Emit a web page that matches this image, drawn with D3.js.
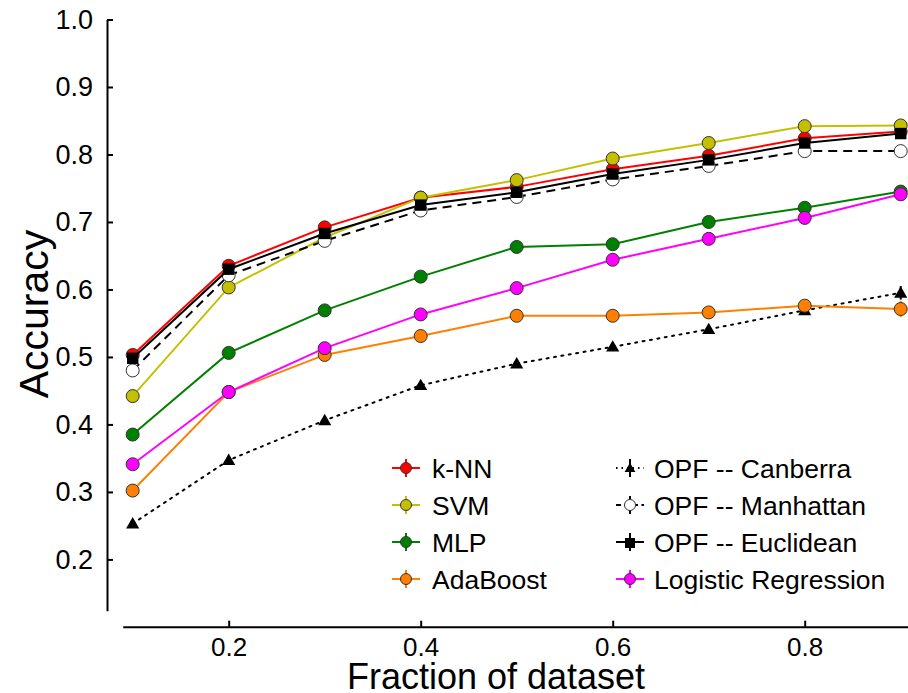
<!DOCTYPE html>
<html>
<head>
<meta charset="utf-8">
<script src="https://cdn.jsdelivr.net/npm/d3@7"></script>
<style>
  body { margin: 0; background: #fff; }
  svg { font-family: "Liberation Sans", Arial, sans-serif; }
</style>
</head>
<body>
<div id="chart"></div>
<script>
// fractions of the dataset
var fractions = [0.1, 0.2, 0.3, 0.4, 0.5, 0.6, 0.7, 0.8, 0.9];

// accuracy per method
var knn       = [0.503, 0.635, 0.692, 0.736, 0.752, 0.778, 0.798, 0.824, 0.834];
var svm       = [0.442, 0.603, 0.677, 0.736, 0.762, 0.794, 0.817, 0.842, 0.843];
var mlp       = [0.385, 0.506, 0.569, 0.619, 0.663, 0.667, 0.700, 0.721, 0.745];
var adaboost  = [0.302, 0.448, 0.503, 0.531, 0.561, 0.561, 0.566, 0.576, 0.571];
var canberra  = [0.253, 0.347, 0.406, 0.458, 0.490, 0.515, 0.541, 0.569, 0.595];
var manhattan = [0.480, 0.621, 0.672, 0.717, 0.737, 0.763, 0.783, 0.805, 0.805];
var euclidean = [0.498, 0.630, 0.683, 0.725, 0.744, 0.771, 0.792, 0.817, 0.831];
var logreg    = [0.341, 0.448, 0.513, 0.563, 0.602, 0.644, 0.675, 0.706, 0.741];

// error bar half widths (mostly too small to see)
var knnErr       = [0.002, 0.002, 0.002, 0.002, 0.002, 0.002, 0.002, 0.002, 0.003];
var svmErr       = [0.002, 0.002, 0.002, 0.002, 0.002, 0.002, 0.002, 0.002, 0.003];
var mlpErr       = [0.003, 0.003, 0.003, 0.003, 0.003, 0.003, 0.003, 0.003, 0.008];
var adaboostErr  = [0.003, 0.003, 0.003, 0.003, 0.003, 0.003, 0.003, 0.003, 0.012];
var canberraErr  = [0.002, 0.002, 0.002, 0.002, 0.002, 0.002, 0.002, 0.002, 0.010];
var manhattanErr = [0.002, 0.002, 0.002, 0.002, 0.002, 0.002, 0.002, 0.002, 0.003];
var euclideanErr = [0.002, 0.002, 0.002, 0.002, 0.002, 0.002, 0.002, 0.002, 0.003];
var logregErr    = [0.003, 0.003, 0.003, 0.003, 0.003, 0.003, 0.003, 0.003, 0.008];

var xTicks = [0.2, 0.4, 0.6, 0.8];
var yTicks = [0.2, 0.3, 0.4, 0.5, 0.6, 0.7, 0.8, 0.9, 1.0];

// svg container
var svgWidth = 908;
var svgHeight = 693;

var svg = d3.select("#chart")
  .append("svg")
  .attr("width", svgWidth)
  .attr("height", svgHeight);

// scales (axes are detached, R style)
var xScale = d3.scaleLinear()
  .domain([0.0896, 0.9076])
  .range([122.7, 908]);

var yScale = d3.scaleLinear()
  .domain([0.124, 1.0])
  .range([610.7, 19.5]);

var yAxisX = 107;
var xAxisY = 626.7;

// series, drawn in this order (later ones on top)
var series = [
  { name: "OPF -- Canberra", values: canberra, err: canberraErr, color: "#000", fill: "#000", shape: "triangle", dash: "2,5.5" },
  { name: "k-NN", values: knn, err: knnErr, color: "#ff0000", fill: "#ff0000", shape: "circle", dash: null },
  { name: "SVM", values: svm, err: svmErr, color: "#c4c000", fill: "#c4c000", shape: "circle", dash: null },
  { name: "MLP", values: mlp, err: mlpErr, color: "#008000", fill: "#008000", shape: "circle", dash: null },
  { name: "AdaBoost", values: adaboost, err: adaboostErr, color: "#ff8000", fill: "#ff8000", shape: "circle", dash: null },
  { name: "OPF -- Manhattan", values: manhattan, err: manhattanErr, color: "#000", fill: "#fff", shape: "circle", dash: "9,6" },
  { name: "OPF -- Euclidean", values: euclidean, err: euclideanErr, color: "#000", fill: "#000", shape: "square", dash: null },
  { name: "Logistic Regression", values: logreg, err: logregErr, color: "#ff00ff", fill: "#ff00ff", shape: "circle", dash: null }
];

function seriesByName(n) {
  return series.filter(function(s) { return s.name === n; })[0];
}

// marker drawing helper
function drawMarker(g, s, cx, cy) {
  if (s.shape === "circle") {
    g.append("circle")
      .attr("cx", cx)
      .attr("cy", cy)
      .attr("r", 6.5)
      .attr("fill", s.fill)
      .attr("stroke", "#333")
      .attr("stroke-width", 1);
  } else {
    var sym = s.shape === "triangle" ? d3.symbolTriangle : d3.symbolSquare;
    var size = s.shape === "triangle" ? 75 : 130;
    g.append("path")
      .attr("d", d3.symbol().type(sym).size(size)())
      .attr("transform", `translate(${cx}, ${cy + (s.shape === "triangle" ? 1 : 0)})`)
      .attr("fill", s.fill);
  }
}

// y axis
var leftAxis = d3.axisLeft(yScale)
  .tickValues(yTicks)
  .tickFormat(d3.format(".1f"))
  .tickSize(-6)
  .tickSizeOuter(0)
  .tickPadding(14);

var yAxis = svg.append("g")
  .attr("transform", `translate(${yAxisX}, 0)`)
  .call(leftAxis);

yAxis.select(".domain").attr("stroke-width", 2);
yAxis.selectAll(".tick line").attr("stroke-width", 2);
yAxis.selectAll("text")
  .attr("font-size", 27)
  .attr("fill", "#000");

// x axis
var bottomAxis = d3.axisBottom(xScale)
  .tickValues(xTicks)
  .tickFormat(d3.format(".1f"))
  .tickSize(-6)
  .tickSizeOuter(0)
  .tickPadding(11);

var xAxis = svg.append("g")
  .attr("transform", `translate(0, ${xAxisY})`)
  .call(bottomAxis);

xAxis.select(".domain").attr("stroke-width", 2);
xAxis.selectAll(".tick line").attr("stroke-width", 2);
xAxis.selectAll("text")
  .attr("font-size", 26)
  .attr("fill", "#000");

// axis titles
svg.append("text")
  .attr("x", 496)
  .attr("y", 689)
  .attr("text-anchor", "middle")
  .attr("font-size", 36)
  .text("Fraction of dataset");

svg.append("text")
  .attr("transform", "rotate(-90)")
  .attr("x", -314)
  .attr("y", 48)
  .attr("text-anchor", "middle")
  .attr("font-size", 41)
  .text("Accuracy");

// lines, error bars and markers
var line = d3.line()
  .x(function(d, i) { return xScale(fractions[i]); })
  .y(function(d) { return yScale(d); });

series.forEach(function(s) {
  var g = svg.append("g");

  g.append("path")
    .datum(s.values)
    .attr("d", line)
    .attr("fill", "none")
    .attr("stroke", s.color)
    .attr("stroke-width", 2)
    .attr("stroke-dasharray", s.dash)
    .attr("stroke-linecap", s.dash === "2,5.5" ? "round" : "butt");

  g.selectAll("line.err")
    .data(s.values)
    .enter()
    .append("line")
    .attr("class", "err")
    .attr("x1", function(d, i) { return xScale(fractions[i]); })
    .attr("x2", function(d, i) { return xScale(fractions[i]); })
    .attr("y1", function(d, i) { return yScale(d - s.err[i]); })
    .attr("y2", function(d, i) { return yScale(d + s.err[i]); })
    .attr("stroke", s.color)
    .attr("stroke-width", 2);

  s.values.forEach(function(v, i) {
    drawMarker(g, s, xScale(fractions[i]), yScale(v));
  });
});

// legend
var legendLeft = ["k-NN", "SVM", "MLP", "AdaBoost"];
var legendRight = ["OPF -- Canberra", "OPF -- Manhattan", "OPF -- Euclidean", "Logistic Regression"];
var legendRows = [468, 505, 542, 579];

function drawLegendColumn(names, mx, tx) {
  names.forEach(function(n, i) {
    var s = seriesByName(n);
    var g = svg.append("g");
    var cy = legendRows[i];

    g.append("line")
      .attr("x1", mx - 14)
      .attr("x2", mx + 14)
      .attr("y1", cy)
      .attr("y2", cy)
      .attr("stroke", s.color)
      .attr("stroke-width", 2)
      .attr("stroke-dasharray", s.dash === "2,5.5" ? "1.5,4" : (s.dash ? "5,3.5" : null));

    g.append("line")
      .attr("x1", mx)
      .attr("x2", mx)
      .attr("y1", cy - 9)
      .attr("y2", cy + 9)
      .attr("stroke", s.color)
      .attr("stroke-width", 2);

    if (s.shape === "circle") {
      g.append("circle")
        .attr("cx", mx)
        .attr("cy", cy)
        .attr("r", 5.5)
        .attr("fill", s.fill)
        .attr("stroke", "#333")
        .attr("stroke-width", 1);
    } else {
      var sym = s.shape === "triangle" ? d3.symbolTriangle : d3.symbolSquare;
      g.append("path")
        .attr("d", d3.symbol().type(sym).size(s.shape === "triangle" ? 50 : 100)())
        .attr("transform", `translate(${mx}, ${cy + 1})`)
        .attr("fill", s.fill);
    }

    g.append("text")
      .attr("x", tx)
      .attr("y", cy)
      .attr("dy", "0.36em")
      .attr("font-size", 26.5)
      .text(n);
  });
}

drawLegendColumn(legendLeft, 406, 432);
drawLegendColumn(legendRight, 630, 654);
</script>
</body>
</html>
